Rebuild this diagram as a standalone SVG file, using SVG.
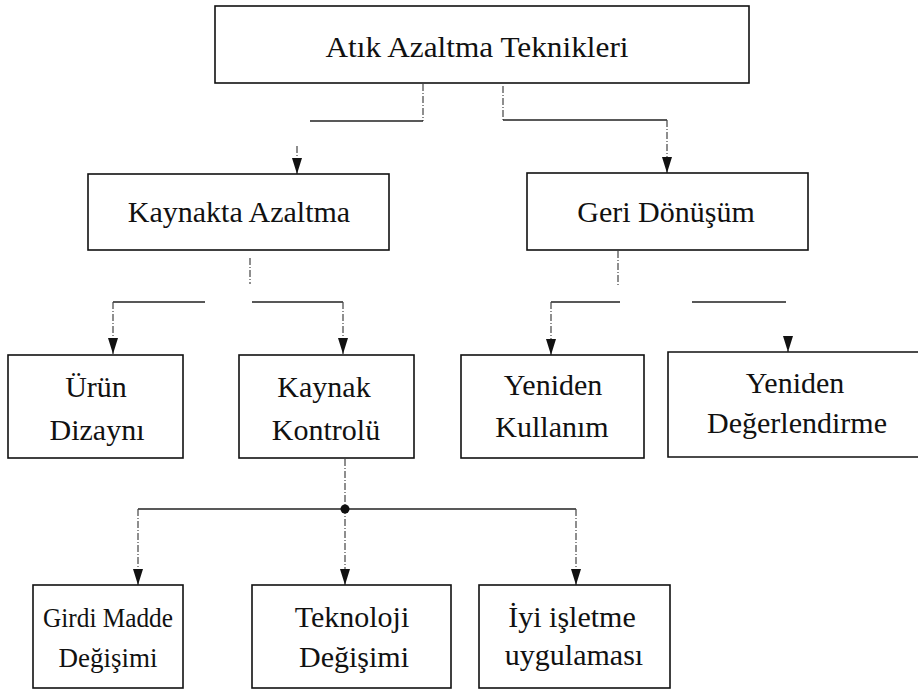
<svg xmlns="http://www.w3.org/2000/svg" width="918" height="690" viewBox="0 0 918 690">
<style>
.box{fill:#fff;stroke:#111;stroke-width:1.6}
.t{font-family:"Liberation Serif","Times New Roman",serif;font-size:30px;fill:#111;text-anchor:middle}
.s{font-size:27px}
.h{fill:none;stroke:#222;stroke-width:1.3}
.v{fill:none;stroke:#444;stroke-width:1.2;stroke-dasharray:7 2 1 2}
</style>
<defs>
<marker id="ah" viewBox="0 0 16 10" refX="16" refY="5" markerWidth="16" markerHeight="10" orient="auto" markerUnits="userSpaceOnUse">
<path d="M0,0 L16,5 L0,10 z" fill="#111"/>
</marker>
</defs>
<rect width="918" height="690" fill="#fff"/>
<g id="connectors">
<path class="v" d="M423,84 V121"/>
<path class="h" d="M423,121 H310"/>
<path class="v" d="M297,146 V174" marker-end="url(#ah)"/>
<path class="v" d="M503,86 V120"/>
<path class="h" d="M503,120 H667"/>
<path class="v" d="M667,120 V173" marker-end="url(#ah)"/>
<path class="v" d="M250,258 V284"/>
<path class="h" d="M113,302 H205 M252,302 H343"/>
<path class="v" d="M113,302 V354" marker-end="url(#ah)"/>
<path class="v" d="M343,302 V354" marker-end="url(#ah)"/>
<path class="v" d="M618,251 V285"/>
<path class="h" d="M551,302 H620 M692,302 H786"/>
<path class="v" d="M551,302 V355" marker-end="url(#ah)"/>
<path class="v" d="M788,338 V352" marker-end="url(#ah)"/>
<path class="v" d="M345,459 V585" marker-end="url(#ah)"/>
<path class="h" d="M138,509 H576"/>
<path class="v" d="M138,509 V585" marker-end="url(#ah)"/>
<path class="v" d="M576,509 V585" marker-end="url(#ah)"/>
<circle cx="345" cy="509" r="4.5" fill="#111"/>
</g>
<g id="n-atik">
<rect class="box" x="215" y="6" width="534" height="77"/>
<text class="t" x="477" y="57" textLength="303" lengthAdjust="spacingAndGlyphs">Atık Azaltma Teknikleri</text>
</g>
<g id="n-kaynakta">
<rect class="box" x="88" y="174" width="301" height="76"/>
<text class="t" x="239" y="222">Kaynakta Azaltma</text>
</g>
<g id="n-geri">
<rect class="box" x="527" y="173" width="281" height="77"/>
<text class="t" x="666" y="222">Geri Dönüşüm</text>
</g>
<g id="n-urun">
<rect class="box" x="8" y="355" width="175" height="103"/>
<text class="t" x="96" y="397">Ürün</text>
<text class="t" x="97" y="440">Dizaynı</text>
</g>
<g id="n-kaynak">
<rect class="box" x="239" y="355" width="175" height="103"/>
<text class="t" x="324" y="397">Kaynak</text>
<text class="t" x="326" y="440">Kontrolü</text>
</g>
<g id="n-kullanim">
<rect class="box" x="461" y="355" width="183" height="103"/>
<text class="t" x="553" y="395">Yeniden</text>
<text class="t" x="552" y="437">Kullanım</text>
</g>
<g id="n-degerlendirme">
<path class="box" d="M918,352 H668 V457 H918"/>
<text class="t" x="795" y="393">Yeniden</text>
<text class="t" x="797" y="433">Değerlendirme</text>
</g>
<g id="n-girdi">
<rect class="box" x="33" y="585" width="150" height="103"/>
<text class="t s" x="108" y="627" textLength="130" lengthAdjust="spacingAndGlyphs">Girdi Madde</text>
<text class="t s" x="108" y="667">Değişimi</text>
</g>
<g id="n-teknoloji">
<rect class="box" x="252" y="585" width="199" height="103"/>
<text class="t" x="352" y="627">Teknoloji</text>
<text class="t" x="354" y="667">Değişimi</text>
</g>
<g id="n-iyi">
<rect class="box" x="479" y="585" width="191" height="103"/>
<text class="t" x="572" y="627">İyi işletme</text>
<text class="t" x="574" y="665">uygulaması</text>
</g>
</svg>
